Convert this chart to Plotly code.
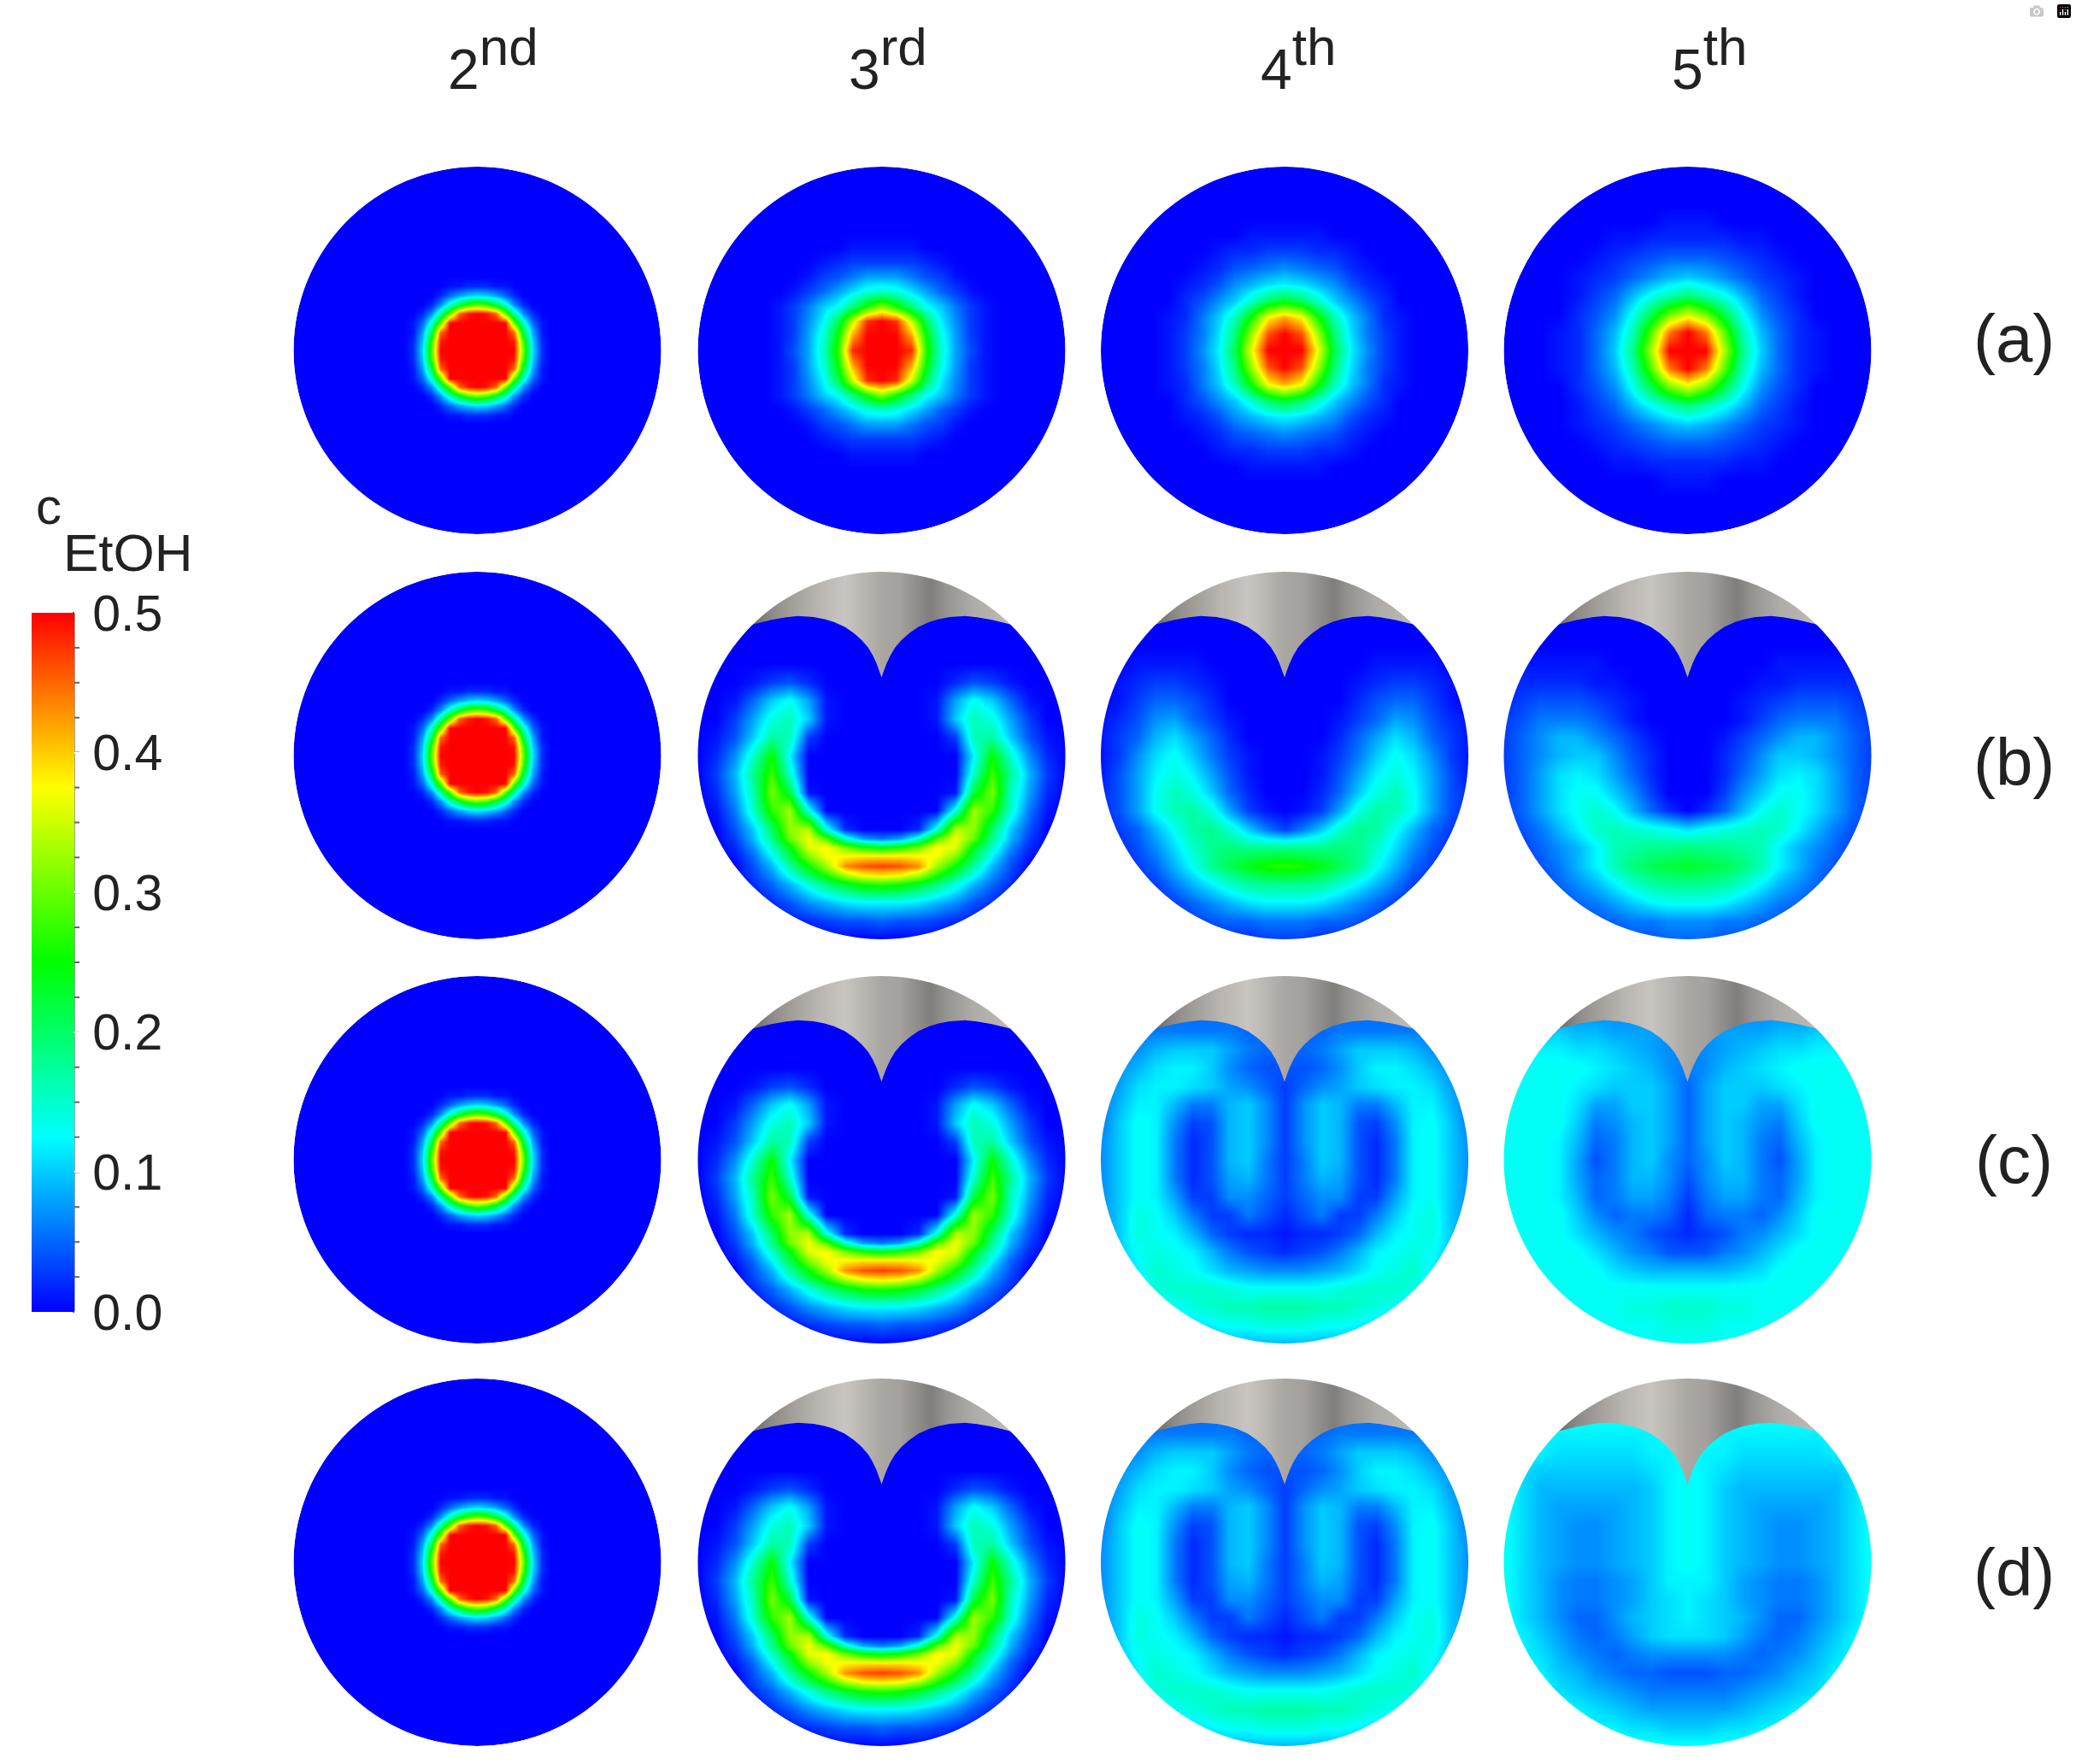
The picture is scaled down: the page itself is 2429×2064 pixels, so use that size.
import numpy as np
import plotly.graph_objects as go

W, H = 2429, 2064
R = 215
COL_CX = [558.5, 1031.5, 1503, 1974.5]
ROW_CY = [410, 884, 1357, 1828]
HEAD = ["2<sup><span style='font-size:62px'>nd</span></sup>", "3<sup><span style='font-size:62px'>rd</span></sup>",
        "4<sup><span style='font-size:62px'>th</span></sup>", "5<sup><span style='font-size:62px'>th</span></sup>"]
HEAD_X = [577, 1039, 1519, 2000]
ROW_LAB = ["(a)", "(b)", "(c)", "(d)"]
ROW_LAB_Y = [396, 892, 1357, 1840]

# c_EtOH x 100, quarter tables: rows = distance below centre, cols = distance right of centre
BLOB_2ND = [
 [50,50,50,50,50,30,11,2,0],[50,50,50,50,49,28,10,2,0],[50,50,50,50,45,22,8,1,0],
 [50,50,50,50,30,15,5,1,0],[50,49,45,30,17,7,2,0,0],[30,28,22,15,7,2,0,0,0],
 [11,10,8,5,2,0,0,0,0],[2,2,1,1,0,0,0,0,0],[0,0,0,0,0,0,0,0,0]]
BLOB_A3 = [
 [50,50,48,27,15,8,4,1,0],[50,50,42,25,14,8,3,1,0],[50,48,35,21,12,7,3,1,0],
 [32,26,19,13,10,6,3,1,0],[15,14,11,8,5,3,1,0,0],[8,8,6,4,3,1,0,0,0],
 [3,3,3,2,1,0,0,0,0],[1,1,1,0,0,0,0,0,0],[0,0,0,0,0,0,0,0,0]]
BLOB_A4 = [
 [50,50,37,21,12,7,3,1,0],[50,46,33,19,11,6,3,1,0],[42,38,26,16,10,6,2,1,0],
 [23,20,15,10,7,4,2,0,0],[12,11,9,7,4,2,1,0,0],[7,6,5,4,2,1,0,0,0],
 [3,3,2,2,1,0,0,0,0],[1,1,1,0,0,0,0,0,0],[0,0,0,0,0,0,0,0,0]]
BLOB_A5 = [
 [50,50,33,18,10,5,2,1,0],[50,44,29,16,9,5,2,1,0],[35,30,21,13,7,4,2,0,0],
 [19,16,13,9,5,3,1,0,0],[10,9,7,5,3,2,1,0,0],[5,5,4,3,2,1,0,0,0],
 [2,2,2,1,1,0,0,0,0],[1,1,0,0,0,0,0,0,0],[0,0,0,0,0,0,0,0,0]]
BLOB_STEP = {"2": 0.05, "a3": 0.08, "a4": 0.09, "a5": 0.10}

# half tables: rows v top to bottom, cols u=0..1 by 0.1
V_REGULAR = [round(-1+.1*i, 2) for i in range(21)]
V_B3 = [-1,-.9,-.8,-.7,-.6,-.5,-.4,-.3,-.2,-.1,0,.1,.2,.3,.4,.45,.5,.55,.6,.65,.7,.8,.9,1]
FIELD_B3 = [
 [0]*11,[0]*11,[0]*11,[0]*11,[0]*11,[0]*11,
 [0,0,0,0,2,4,3,1,0,0,0],
 [0,0,0,1,8,13,10,5,1,0,0],
 [0,0,0,1,10,16,14,8,3,0,0],
 [0,0,0,0,3,16,17,10,4,1,0],
 [0,0,0,0,0,12,25,15,7,2,0],
 [0,0,0,0,0,15,28,18,9,3,0],
 [0,0,0,0,1,22,31,16,8,2,0],
 [0,0,0,0,14,33,27,15,6,1,0],
 [0,0,2,14,34,32,20,10,4,0,0],
 [6,8,15,29,37,30,18,9,3,0,0],
 [24,26,31,38,36,24,15,7,2,0,0],
 [39,39,38,37,31,21,12,5,1,0,0],
 [47,46,43,33,25,17,9,4,0,0,0],
 [38,37,33,26,20,13,7,3,0,0,0],
 [27,26,23,19,14,9,5,2,0,0,0],
 [12,12,11,9,7,4,2,0,0,0,0],
 [5,4,4,3,2,1,0,0,0,0,0],
 [0]*11]
FIELD_B4 = [
 [0]*11,[0]*11,[0]*11,[0]*11,[0]*11,
 [0,0,0,0,0,1,1,1,1,0,0],
 [0,0,0,0,1,2,3,3,2,1,0],
 [0,0,0,0,2,4,5,5,3,1,0],
 [0,0,0,1,3,5,8,7,4,2,1],
 [0,0,0,2,5,8,11,9,5,3,1],
 [0,0,1,3,6,10,13,11,7,3,1],
 [0,0,1,4,8,12,14,12,8,4,1],
 [0,0,2,5,10,14,16,13,8,4,2],
 [0,1,3,8,14,17,16,13,8,4,2],
 [3,6,10,15,18,17,13,9,5,3,1],
 [18,18,18,19,18,15,11,7,4,2,1],
 [27,26,24,21,18,13,9,5,3,1,1],
 [18,18,17,15,12,9,6,3,2,1,1],
 [12,12,11,9,7,5,3,2,1,1,1],
 [6,6,5,5,4,3,2,1,1,1,1],
 [3,3,2,2,2,1,1,1,1,1,1]]
FIELD_B5 = [
 [0]*11,[0]*11,[0]*11,[0]*11,[0]*11,
 [0,0,0,0,0,1,1,1,1,1,1],
 [0,0,0,0,1,1,2,2,2,2,1],
 [0,0,0,1,2,3,4,4,4,3,2],
 [0,0,0,1,3,5,6,6,6,4,3],
 [0,0,1,3,5,7,9,9,7,5,3],
 [0,0,2,4,7,10,10,9,7,5,3],
 [0,0,2,5,8,11,12,11,8,5,3],
 [0,0,3,7,10,13,13,11,8,5,3],
 [0,2,5,9,13,15,13,11,8,5,3],
 [11,13,14,15,16,15,12,9,6,4,3],
 [19,18,18,17,16,12,9,7,5,3,2],
 [23,22,21,19,16,12,9,6,4,3,2],
 [18,18,17,15,12,9,7,5,3,2,2],
 [13,13,12,10,8,6,5,3,2,2,2],
 [7,7,6,6,5,4,3,2,2,2,2],
 [5,5,4,4,3,3,2,2,2,2,2]]
FIELD_C4 = [
 [5]*11,[5]*11,[5]*11,
 [5,5,5,6,6,6,6,6,6,6,6],
 [5,5,6,8,10,10,10,9,7,6,6],
 [4,4,5,7,10,12,12,11,9,7,6],
 [3,5,7,8,10,11,12,12,11,8,6],
 [3,7,10,9,6,6,9,12,12,9,6],
 [3,7,10,9,4,3,7,12,13,10,6],
 [3,7,10,9,4,2,6,12,13,10,7],
 [3,6,10,9,4,2,6,12,13,10,7],
 [3,6,9,8,4,2,6,12,13,10,7],
 [3,5,7,7,3,3,8,12,13,10,7],
 [2,4,6,3,3,6,10,13,14,10,7],
 [1,2,2,3,5,9,12,13,14,10,7],
 [2,3,4,6,9,12,13,14,13,10,7],
 [7,7,8,9,11,13,14,15,12,9,7],
 [13,13,13,14,15,15,15,14,11,8,7],
 [17,17,16,16,15,14,13,12,9,7,7],
 [14,14,13,13,12,11,10,9,7,7,7],
 [9,9,9,9,8,8,8,7,7,7,7]]
FIELD_C5 = [
 [7]*11,[7]*11,[7]*11,
 [7,7,8,8,8,9,9,10,10,10,10],
 [6,7,8,9,10,11,11,12,12,12,12],
 [6,7,9,10,11,12,13,13,13,13,13],
 [5,8,10,10,10,11,12,13,13,13,13],
 [5,8,10,10,8,8,11,13,13,13,13],
 [5,8,10,9,7,6,10,13,13,13,13],
 [5,8,10,9,6,5,9,12,13,13,13],
 [5,7,10,9,6,4,8,12,13,13,13],
 [4,7,9,9,6,5,8,12,13,13,13],
 [3,6,8,8,6,5,9,12,13,13,13],
 [2,5,6,6,5,7,10,13,13,13,13],
 [2,3,4,6,7,9,11,13,13,13,13],
 [4,4,6,7,9,11,13,13,13,13,13],
 [9,9,9,10,11,13,13,13,13,13,13],
 [13]*11,
 [15,15,14,14,13,13,13,13,13,13,13],
 [14,14,13,13,13,13,13,13,13,13,13],
 [13]*11]
FIELD_D5 = [
 [13]*11,[13]*11,[13]*11,
 [13,13,12,12,12,12,12,12,12,13,13],
 [13,12,12,11,11,11,11,11,12,12,13],
 [13,12,11,10,10,10,10,10,10,11,13],
 [13,12,10,9,9,9,9,9,9,11,13],
 [13,12,10,9,8,8,8,8,9,11,13],
 [13,12,10,9,8,7,7,8,9,11,13],
 [13,12,10,9,8,7,7,8,9,11,13],
 [13,12,10,9,8,7,7,8,9,11,13],
 [12,12,10,8,7,6,6,7,9,11,13],
 [12,11,10,8,7,6,6,7,9,11,13],
 [12,11,10,9,7,5,5,7,9,11,13],
 [11,11,10,8,6,5,6,8,10,12,13],
 [7,7,7,6,5,6,7,9,11,12,13],
 [4,4,5,5,6,7,9,10,12,13,13],
 [6,6,6,7,8,9,10,11,13,13,13],
 [8,8,8,9,10,11,12,13,13,13,13],
 [10,10,11,11,12,12,13,13,13,13,13],
 [13]*11]

LAYOUT = [
 [("blob", BLOB_2ND, "2"), ("blob", BLOB_A3, "a3"), ("blob", BLOB_A4, "a4"), ("blob", BLOB_A5, "a5")],
 [("blob", BLOB_2ND, "2"), ("field", FIELD_B3, V_B3), ("field", FIELD_B4, V_REGULAR), ("field", FIELD_B5, V_REGULAR)],
 [("blob", BLOB_2ND, "2"), ("field", FIELD_B3, V_B3), ("field", FIELD_C4, V_REGULAR), ("field", FIELD_C5, V_REGULAR)],
 [("blob", BLOB_2ND, "2"), ("field", FIELD_B3, V_B3), ("field", FIELD_C4, V_REGULAR), ("field", FIELD_D5, V_REGULAR)],
]

# solid (grey) outline, right half, mirrored
SOLID_U = [0,.012,.027,.048,.073,.108,.15,.2,.26,.31,.37,.455,.52,.6,.704,.8]
SOLID_V = [-.424,-.46,-.50,-.545,-.587,-.628,-.665,-.70,-.727,-.742,-.753,-.759,-.752,-.738,-.712,-.69]
GREY_U = [-.78,-.72,-.6,-.5,-.35,-.2,-.1,0,.1,.2,.27,.35,.5,.65,.78]
GREY = ["#555555","#666666","#8c8a88","#a09c98","#b8b4b0","#c8c4c0","#bab6b2","#aaa6a2","#a4a19e","#8e8c8a","#807e7c","#969490","#aeaca8","#bab6b2","#c0bcb8"]

COLORSCALE = [[0, "#0000ff"], [.25, "#00ffff"], [.5, "#00ff00"], [.75, "#ffff00"], [1, "#ff0000"]]
CB_TICKS = [0, .1, .2, .3, .4, .5]
CB_MINOR = [round(i*.025, 3) for i in range(21)]
BAR_TOP, BAR_BOT = 717, 1535
FONT = "Liberation Sans"
TXT = "#222222"

fig = go.Figure()
shapes, annos = [], []
SPAN = 1.08
OUT = 1.2
circle = np.linspace(0, 2*np.pi, 160, endpoint=False)
ring = (f"M {-OUT} {-OUT} L {OUT} {-OUT} L {OUT} {OUT} L {-OUT} {OUT} Z M " +
        " L ".join(f"{np.cos(a):.4f} {np.sin(a):.4f}" for a in circle) + " Z")
k = 0
for r, cy in enumerate(ROW_CY):
    for c, cx in enumerate(COL_CX):
        k += 1
        sfx = "" if k == 1 else str(k)
        d = SPAN*R
        fig.layout[f"xaxis{sfx}"] = dict(domain=[(cx-d)/W, (cx+d)/W], range=[-SPAN, SPAN], visible=False, fixedrange=True)
        fig.layout[f"yaxis{sfx}"] = dict(domain=[1-(cy+d)/H, 1-(cy-d)/H], range=[SPAN, -SPAN], visible=False, fixedrange=True)
        spec = LAYOUT[r][c]
        if spec[0] == "blob":
            q = np.array(spec[1], float)
            s = BLOB_STEP[spec[2]]
            half = np.hstack([q[:, :0:-1], q])
            z = np.vstack([half[:0:-1], half])
            xs = ys = np.arange(-8, 9)*s
            shapes.append(dict(type="circle", x0=-1, x1=1, y0=-1, y1=1, xref=f"x{sfx}", yref=f"y{sfx}",
                               fillcolor="#0000ff", line=dict(width=0), layer="below"))
        else:
            h = np.array(spec[1], float)
            z = np.hstack([h[:, :0:-1], h])
            xs = np.arange(-10, 11)*.1
            ys = np.array(spec[2])
        fig.add_trace(go.Heatmap(z=z/100, x=xs, y=ys, coloraxis="coloraxis", zsmooth="best",
                                 hoverinfo="skip", xaxis=f"x{sfx}", yaxis=f"y{sfx}"))
        if r > 0 and c > 0:
            ux = [-u for u in SOLID_U[:0:-1]] + SOLID_U
            vy = SOLID_V[:0:-1] + SOLID_V
            px = ux + [.8, -.8, ux[0]]
            py = vy + [-1.04, -1.04, vy[0]]
            stops = [[(u-GREY_U[0])/(GREY_U[-1]-GREY_U[0]), g] for u, g in zip(GREY_U, GREY)]
            fig.add_trace(go.Scatter(x=px, y=py, mode="lines", line=dict(width=0), fill="toself",
                                     fillgradient=dict(type="horizontal", colorscale=stops, start=GREY_U[0], stop=GREY_U[-1]),
                                     hoverinfo="skip", showlegend=False, xaxis=f"x{sfx}", yaxis=f"y{sfx}"))
        shapes.append(dict(type="path", path=ring, xref=f"x{sfx}", yref=f"y{sfx}", fillcolor="white",
                           fillrule="evenodd", line=dict(width=0), layer="above"))

def note(text, x, y, size):
    annos.append(dict(text=text, x=x/W, y=1-y/H, xref="paper", yref="paper", showarrow=False,
                      xanchor="center", yanchor="middle", font=dict(family=FONT, size=size, color=TXT)))
for t, x in zip(HEAD, HEAD_X):
    note(t, x, 69, 66)
for t, y in zip(ROW_LAB, ROW_LAB_Y):
    note(t, 2356, y, 78)
note("c", 57, 593, 60)
note("EtOH", 150, 646, 62)
shapes.append(dict(type="line", xref="paper", yref="paper", x0=85/W, x1=85/W, y0=1-BAR_TOP/H, y1=1-BAR_BOT/H,
                   line=dict(color="#444444", width=5)))
for m in CB_MINOR:
    ypx = BAR_BOT - (BAR_BOT-BAR_TOP)*m/.5
    shapes.append(dict(type="line", xref="paper", yref="paper", x0=85/W, x1=93/W, y0=1-ypx/H, y1=1-ypx/H,
                       line=dict(color="#666666", width=2)))

fig.update_layout(
    width=W, height=H, margin=dict(l=0, r=0, t=0, b=0), paper_bgcolor="white", plot_bgcolor="white",
    showlegend=False, shapes=shapes, annotations=annos,
    coloraxis=dict(cmin=0, cmax=.5, colorscale=COLORSCALE, colorbar=dict(
        x=37/W, xanchor="left", xpad=0, ypad=0, thickness=50, thicknessmode="pixels",
        len=BAR_BOT-BAR_TOP, lenmode="pixels", y=1-BAR_BOT/H, yanchor="bottom", outlinewidth=0,
        tickmode="array", tickvals=CB_TICKS, ticktext=[f"{t:.1f}" for t in CB_TICKS], ticks="outside", ticklen=10, tickwidth=2,
        tickcolor="#ffffff", tickfont=dict(family=FONT, size=59, color=TXT))),
)
fig.write_html("out.html", post_script="document.body.style.margin='0';")
